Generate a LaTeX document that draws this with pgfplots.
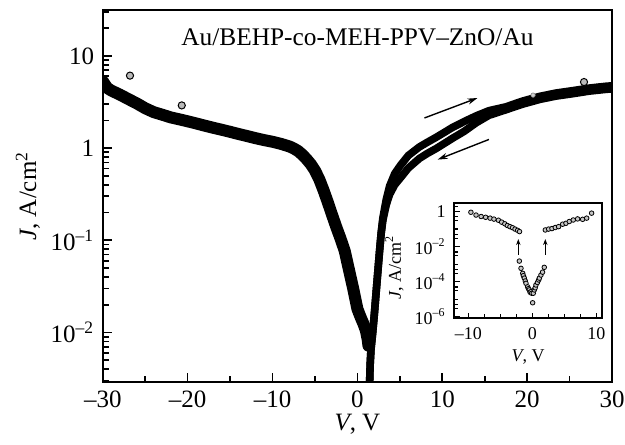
\documentclass[border=0pt]{standalone}
\usepackage{fontspec}
\setmainfont{Liberation Serif}
\usepackage{pgfplots}
\pgfplotsset{compat=1.18}
\usetikzlibrary{arrows.meta}

% main J-V sweep: left branch, forward (upper) and backward (lower) right branch
\pgfplotstableread{
V J
-30 5.3
-29.5 4.5
-29 4.2
-28 3.8
-27 3.4
-26 3.05
-25 2.7
-24 2.45
-23 2.3
-22 2.15
-21 2.05
-20 1.95
-19 1.85
-18 1.75
-17 1.66
-16 1.58
-15 1.5
-14 1.42
-13 1.35
-12 1.28
-11 1.22
-10 1.17
-9 1.11
-8 1.04
-7.5 0.99
-7 0.93
-6.5 0.85
-6 0.76
-5.5 0.67
-5 0.57
-4.5 0.46
-4 0.35
-3.5 0.26
-3 0.19
-2.5 0.14
-2 0.105
-1.5 0.077
-1 0.048
-0.5 0.03
0 0.018
0.4 0.0145
0.7 0.0125
1.0 0.0105
1.2 0.0085
1.3 0.0072
}\leftbranch

\pgfplotstableread{
V J
1.42 0.0025
1.5 0.0045
1.6 0.0066
1.8 0.010
2.0 0.016
2.2 0.027
2.4 0.045
2.6 0.075
2.8 0.12
3.0 0.175
3.4 0.278
3.8 0.389
4.4 0.529
5.1 0.655
6.0 0.831
7.3 1.028
8.2 1.15
9.3 1.311
11.2 1.672
12.6 1.944
14.0 2.235
15.5 2.544
17.5 2.80
19.4 3.22
21.5 3.64
23.4 3.95
25.5 4.21
27.3 4.47
29.3 4.68
30 4.73
}\forward

\pgfplotstableread{
V J
1.42 0.0025
1.5 0.0045
1.6 0.0066
1.8 0.010
2.0 0.016
2.2 0.027
2.4 0.045
2.6 0.075
2.8 0.12
3.0 0.165
3.4 0.243
3.8 0.315
4.4 0.400
5.1 0.479
6.0 0.607
7.3 0.771
8.2 0.870
9.3 0.991
11.2 1.275
12.6 1.522
14.0 1.881
15.5 2.264
17.5 2.60
19.4 2.98
21.5 3.37
23.4 3.66
25.5 3.90
27.3 4.14
29.3 4.33
30 4.38
}\backward

\begin{document}
\fontsize{12.5}{15}\selectfont
\begin{tikzpicture}
\useasboundingbox (-51.5pt,-31pt) rectangle (261.5pt,191.5pt);
\begin{axis}[
    scale only axis,
    width=255pt,
    height=186.5pt,
    ymode=log,
    xmin=-30, xmax=30,
    ymin=0.00288, ymax=31.4,
    xtick={-30,-20,-10,0,10,20,30},
    xticklabels={–30,–20,–10,0,10,20,30},
    minor xtick={-25,-15,-5,5,15,25},
    ytick={0.01,0.1,1,10},
    yticklabels={10\textsuperscript{–2},10\textsuperscript{–1},1,10},
    minor ytick={0.003,0.004,0.005,0.006,0.007,0.008,0.009,
                 0.02,0.03,0.04,0.05,0.06,0.07,0.08,0.09,
                 0.2,0.3,0.4,0.5,0.6,0.7,0.8,0.9,
                 2,3,4,5,6,7,8,9,20,30},
    xtick pos=left, ytick pos=left,
    tick align=inside,
    major tick length=4.5pt,
    minor tick length=3pt,
    tick style={black, line width=0.8pt},
    axis line style={line width=1.1pt},
    xlabel={\textit{V}, V},
    ylabel={\textit{J}, A/cm\textsuperscript{2}},
    xlabel style={at={([yshift=-21pt]axis description cs:0.5,0)}, anchor=center},
    ylabel style={at={([xshift=-37.5pt]axis description cs:0,0.5)}, anchor=center},
]
\addplot[black, line width=6pt, line join=round, line cap=round] table[x=V,y=J] {\leftbranch};
\addplot[black, line width=3.8pt, line join=round, line cap=round] table[x=V,y=J] {\forward};
\addplot[black, line width=3.8pt, line join=round, line cap=round] table[x=V,y=J] {\backward};
\addplot[only marks, mark=*, mark size=1.8pt, mark options={fill=gray!55, draw=black, line width=0.5pt}] coordinates {
    (-26.8,6.1) (-20.7,2.9) (26.7,5.2)
};
\addplot[only marks, mark=*, mark size=1.1pt, mark options={fill=gray!40, draw=gray, line width=0.3pt}] coordinates {
    (20.7,3.75)
};
\draw[line width=0.7pt, -{Stealth[length=5pt,width=3pt]}] (axis cs:7.9,2.12) -- (axis cs:14.15,3.49);
\draw[line width=0.7pt, -{Stealth[length=5pt,width=3pt]}] (axis cs:15.5,1.24) -- (axis cs:9.45,0.75);
\node[anchor=center, font=\fontsize{12.7}{15}\selectfont] at (rel axis cs:0.5,0.928) {Au/BEHP-co-MEH-PPV–ZnO/Au};
\end{axis}

\begin{axis}[
    at={(176pt,32pt)}, anchor=south west,
    scale only axis,
    width=74pt,
    height=58pt,
    ymode=log,
    xmin=-12.2, xmax=10.9,
    ymin=8e-7, ymax=3.2,
    xtick={-10,0,10},
    xticklabels={–10,0,10},
    minor xtick={-7.5,-5,-2.5,2.5,5,7.5},
    ytick={1e-6,1e-4,1e-2,1},
    yticklabels={10\textsuperscript{–6},10\textsuperscript{–4},10\textsuperscript{–2},1},
    minor ytick={1e-5,1e-3,1e-1,
                 3e-6,5e-6,3e-5,5e-5,3e-4,5e-4,3e-3,5e-3,3e-2,5e-2,0.3,0.5,2},
    xtick pos=left, ytick pos=left,
    tick align=inside,
    major tick length=3pt,
    minor tick length=2pt,
    tick style={black, line width=0.6pt},
    axis line style={line width=1pt},
    font=\fontsize{9}{11}\selectfont,
    xlabel={\textit{V}, V},
    ylabel={\textit{J}, A/cm\textsuperscript{2}},
    xlabel style={at={([yshift=-19.5pt]axis description cs:0.5,0)}, anchor=center},
    ylabel style={at={([xshift=-30pt]axis description cs:0,0.44)}, anchor=center},
    xticklabel style={font=\fontsize{9}{11}\selectfont},
    yticklabel style={font=\fontsize{9}{11}\selectfont},
    xlabel style={font=\fontsize{9}{11}\selectfont},
    ylabel style={font=\fontsize{9}{11}\selectfont},
]
\addplot[only marks, mark=*, mark size=1.15pt, mark options={fill=gray!45, draw=black, line width=0.4pt}] coordinates {
    (-9.6,0.91) (-8.8,0.63) (-8.0,0.52) (-7.3,0.47) (-6.6,0.42) (-6.0,0.37)
    (-5.3,0.32) (-4.8,0.25) (-4.3,0.2) (-3.9,0.16) (-3.5,0.138) (-3.1,0.12)
    (-2.7,0.1) (-2.3,0.085) (-2.0,0.072)
};
\addplot[only marks, mark=*, mark size=1.15pt, mark options={fill=gray!45, draw=black, line width=0.4pt}] coordinates {
    (2.03,0.089) (2.55,0.1) (3.07,0.107) (3.59,0.123) (4.11,0.138) (4.74,0.19)
    (5.26,0.214) (5.78,0.27) (6.4,0.33) (7.08,0.38) (7.86,0.36) (8.5,0.42) (9.27,0.81)
};
\addplot[only marks, mark=*, mark size=1.15pt, mark options={fill=gray!45, draw=black, line width=0.4pt}] coordinates {
    (-2.03,1.5e-3) (-1.77,5.8e-4) (-1.5,3.0e-4) (-1.4,2.2e-4) (-1.25,1.6e-4)
    (-1.1,1.1e-4) (-0.99,8.1e-5) (-0.73,5.1e-5) (-0.6,4e-5) (-0.47,3.4e-5)
    (-0.35,2.5e-5) (-0.21,2.7e-5) (-0.1,2.2e-5) (0.05,6.3e-6) (0.15,2.2e-5)
    (0.31,3.4e-5) (0.45,4.5e-5) (0.57,6.5e-5) (0.8,9e-5) (0.99,1.26e-4)
    (1.1,1.6e-4) (1.35,2.4e-4) (1.6,3.5e-4) (1.87,6.6e-4)
};
\draw[line width=0.5pt, -{Stealth[length=3pt,width=2.2pt]}] (axis cs:-2.19,3.4e-3) -- (axis cs:-2.19,0.027);
\draw[line width=0.5pt, -{Stealth[length=3pt,width=2.2pt]}] (axis cs:2.03,3.4e-3) -- (axis cs:2.03,0.027);
\end{axis}
\end{tikzpicture}
\end{document}
